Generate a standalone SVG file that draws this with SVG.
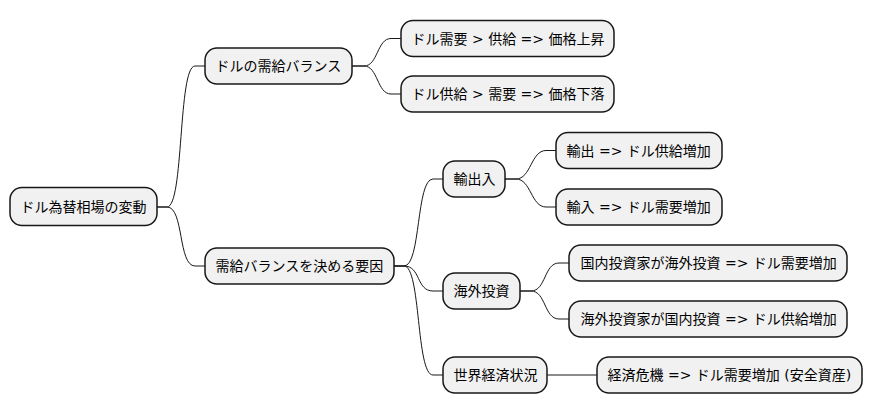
<svg xmlns="http://www.w3.org/2000/svg" width="872" height="415" viewBox="0 0 872 415">
<style>
.n{fill:#F1F1F1;stroke:#181818;stroke-width:1.5}
.t{font-family:"DejaVu Sans","Noto Sans CJK JP",sans-serif;font-size:14px;fill:#000}
.c{fill:none;stroke:#181818;stroke-width:1}
</style>
<rect width="872" height="415" fill="#FFFFFF"/>
<g id="connectors">
<path class="c" d="M157,207 L167,207 C184,207 178,66 195,66 L205,66"/>
<path class="c" d="M157,207 L167,207 C184,207 178,266 195,266 L205,266"/>
<path class="c" d="M352,66 L364,66 C378,66 377,38.5 391,38.5 L401,38.5"/>
<path class="c" d="M352,66 L364,66 C378,66 377,94 391,94 L401,94"/>
<path class="c" d="M394,266 L404,266 C421,266 416,179 433,179 L443,179"/>
<path class="c" d="M394,266 L404,266 C421,266 416,291 433,291 L443,291"/>
<path class="c" d="M394,266 L404,266 C421,266 416,375 433,375 L443,375"/>
<path class="c" d="M505,179 L516,179 C531,179 531,150.5 546,150.5 L556,150.5"/>
<path class="c" d="M505,179 L516,179 C531,179 531,207 546,207 L556,207"/>
<path class="c" d="M520,291 L531,291 C546,291 544,263 559,263 L569,263"/>
<path class="c" d="M520,291 L531,291 C546,291 544,319 559,319 L569,319"/>
<path class="c" d="M547,375 L597,375"/>
</g>
<g id="root"><rect class="n" x="10" y="187.5" width="147" height="38" rx="12"/><text class="t" x="20.5" y="212">ドル為替相場の変動</text></g>
<g id="n1"><rect class="n" x="205" y="48" width="147" height="36" rx="12"/><text class="t" x="215.5" y="71">ドルの需給バランス</text></g>
<g id="n11"><rect class="n" x="401" y="20.5" width="213" height="36" rx="12"/><text class="t" x="411.5" y="43.5">ドル需要 &gt; 供給 =&gt; 価格上昇</text></g>
<g id="n12"><rect class="n" x="401" y="76" width="213" height="36" rx="12"/><text class="t" x="411.5" y="99">ドル供給 &gt; 需要 =&gt; 価格下落</text></g>
<g id="n2"><rect class="n" x="205" y="248" width="189" height="36" rx="12"/><text class="t" x="215.5" y="271">需給バランスを決める要因</text></g>
<g id="n21"><rect class="n" x="443" y="161" width="62" height="36" rx="12"/><text class="t" x="453.5" y="184">輸出入</text></g>
<g id="n211"><rect class="n" x="556" y="132.5" width="166" height="36" rx="12"/><text class="t" x="566.5" y="155.5">輸出 =&gt; ドル供給増加</text></g>
<g id="n212"><rect class="n" x="556" y="189" width="166" height="36" rx="12"/><text class="t" x="566.5" y="212">輸入 =&gt; ドル需要増加</text></g>
<g id="n22"><rect class="n" x="443" y="273" width="77" height="36" rx="12"/><text class="t" x="453.5" y="296">海外投資</text></g>
<g id="n221"><rect class="n" x="569" y="245" width="278" height="36" rx="12"/><text class="t" x="580.5" y="268">国内投資家が海外投資 =&gt; ドル需要増加</text></g>
<g id="n222"><rect class="n" x="569" y="301" width="278" height="36" rx="12"/><text class="t" x="580.5" y="324">海外投資家が国内投資 =&gt; ドル供給増加</text></g>
<g id="n23"><rect class="n" x="443" y="357" width="104" height="36" rx="12"/><text class="t" x="453.5" y="380">世界経済状況</text></g>
<g id="n231"><rect class="n" x="597" y="357" width="265" height="36" rx="12"/><text class="t" x="607.5" y="380">経済危機 =&gt; ドル需要増加 (安全資産)</text></g>
</svg>
